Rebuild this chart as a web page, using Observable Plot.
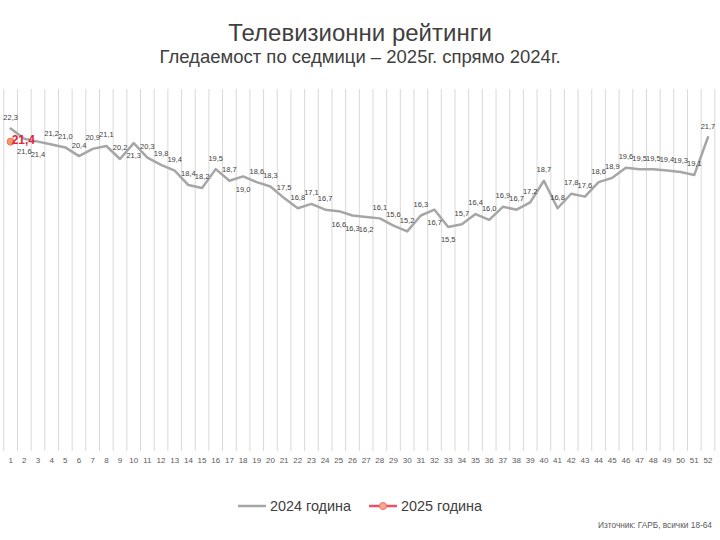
<!DOCTYPE html>
<html>
<head>
<meta charset="utf-8">
<script src="https://cdn.jsdelivr.net/npm/d3@7"></script>
<script src="https://cdn.jsdelivr.net/npm/@observablehq/plot@0.6"></script>
<style>
  body { margin: 0; width: 720px; height: 540px; background: #fff; font-family: "Liberation Sans", Arial, sans-serif; position: relative; overflow: hidden; }
  #title { position: absolute; top: 19px; left: 0; width: 720px; text-align: center; font-size: 24px; line-height: 28px; color: #404040; }
  #subtitle { position: absolute; top: 46px; left: 0; width: 720px; text-align: center; font-size: 18.5px; line-height: 22px; color: #404040; }
  #chart { position: absolute; top: 70px; left: 0; }
  #legend { position: absolute; top: 498px; left: 0; width: 720px; display: flex; justify-content: center; align-items: center; font-size: 14.4px; color: #404040; }
  #legend .item { display: flex; align-items: center; margin: 0 9px; }
  #legend svg { margin-right: 4px; }
  #source { position: absolute; top: 520px; right: 8px; font-size: 8.3px; color: #595959; }
</style>
</head>
<body>
<div id="title">Телевизионни рейтинги</div>
<div id="subtitle">Гледаемост по седмици – 2025г. спрямо 2024г.</div>
<div id="chart"></div>
<div id="legend">
  <div class="item"><svg width="28" height="10"><line x1="0" y1="5" x2="28" y2="5" stroke="#a6a6a6" stroke-width="2.5"/></svg>2024 година</div>
  <div class="item"><svg width="28" height="10"><line x1="0" y1="5" x2="28" y2="5" stroke="#f0506a" stroke-width="2.5"/><circle cx="14" cy="5" r="3.5" fill="#f8a98a" stroke="#f07060" stroke-width="1"/></svg>2025 година</div>
</div>
<div id="source">Източник: ГАРБ, всички 18-64</div>
<script>
const weeks = d3.range(1, 53);
const ratings2024 = [22.3,21.6,21.4,21.2,21.0,20.4,20.9,21.1,20.2,21.3,
                     20.3,19.8,19.4,18.4,18.2,19.5,18.7,19.0,18.6,18.3,
                     17.5,16.8,17.1,16.7,16.6,16.3,16.2,16.1,15.6,15.2,
                     16.3,16.7,15.5,15.7,16.4,16.0,16.9,16.7,17.2,18.7,
                     16.8,17.8,17.6,18.6,18.9,19.6,19.5,19.5,19.4,19.3,
                     19.1,21.7];
const weeks2025 = [1];
const ratings2025 = [21.4];
// weeks whose 2024 label sits below the line
const labelBelowWeeks = [2,3,10,18,25,26,27,32,33];

const fmt = v => v.toFixed(1).replace(".", ",");
const data2024 = weeks.map((w, i) => ({week: w, value: ratings2024[i], below: labelBelowWeeks.includes(w)}));
const data2025 = weeks2025.map((w, i) => ({week: w, value: ratings2025[i]}));
const bounds = d3.range(0, 53).map(i => i + 0.5);

const chart = Plot.plot({
  width: 720,
  height: 410,
  marginTop: 19,
  marginBottom: 29,
  marginLeft: 3.3,
  marginRight: 5.7,
  style: {fontFamily: "'Liberation Sans', Arial, sans-serif", background: "transparent"},
  x: {domain: [0.5, 52.5]},
  y: {domain: [0, 25], axis: null},
  marks: [
    Plot.ruleX(bounds, {x: d => d, y1: 0, y2: 25, stroke: "#d9d9d9", strokeWidth: 1}),
    Plot.axisX(weeks, {tickSize: 0, tickPadding: 6, tickFormat: d => String(d), fontSize: 8, fill: "#595959", label: null}),
    Plot.line(data2024, {x: "week", y: "value", stroke: "#a6a6a6", strokeWidth: 2.5}),
    Plot.text(data2024.filter(d => !d.below), {x: "week", y: "value", text: d => fmt(d.value), dy: -11, fontSize: 7.5, fill: "#404040"}),
    Plot.text(data2024.filter(d => d.below), {x: "week", y: "value", text: d => fmt(d.value), dy: 13, fontSize: 7.5, fill: "#404040"}),
    Plot.line(data2025, {x: "week", y: "value", stroke: "#f0506a", strokeWidth: 2.5}),
    Plot.dot(data2025, {x: "week", y: "value", r: 3.5, fill: "#f39a6a", stroke: "#f07060", strokeWidth: 1}),
    Plot.text(data2025, {x: "week", y: "value", text: d => fmt(d.value), textAnchor: "start", dx: 1, dy: -1, fontSize: 12, fontWeight: "bold", fill: "#e0283a"})
  ]
});
document.getElementById("chart").appendChild(chart);
</script>
</body>
</html>
